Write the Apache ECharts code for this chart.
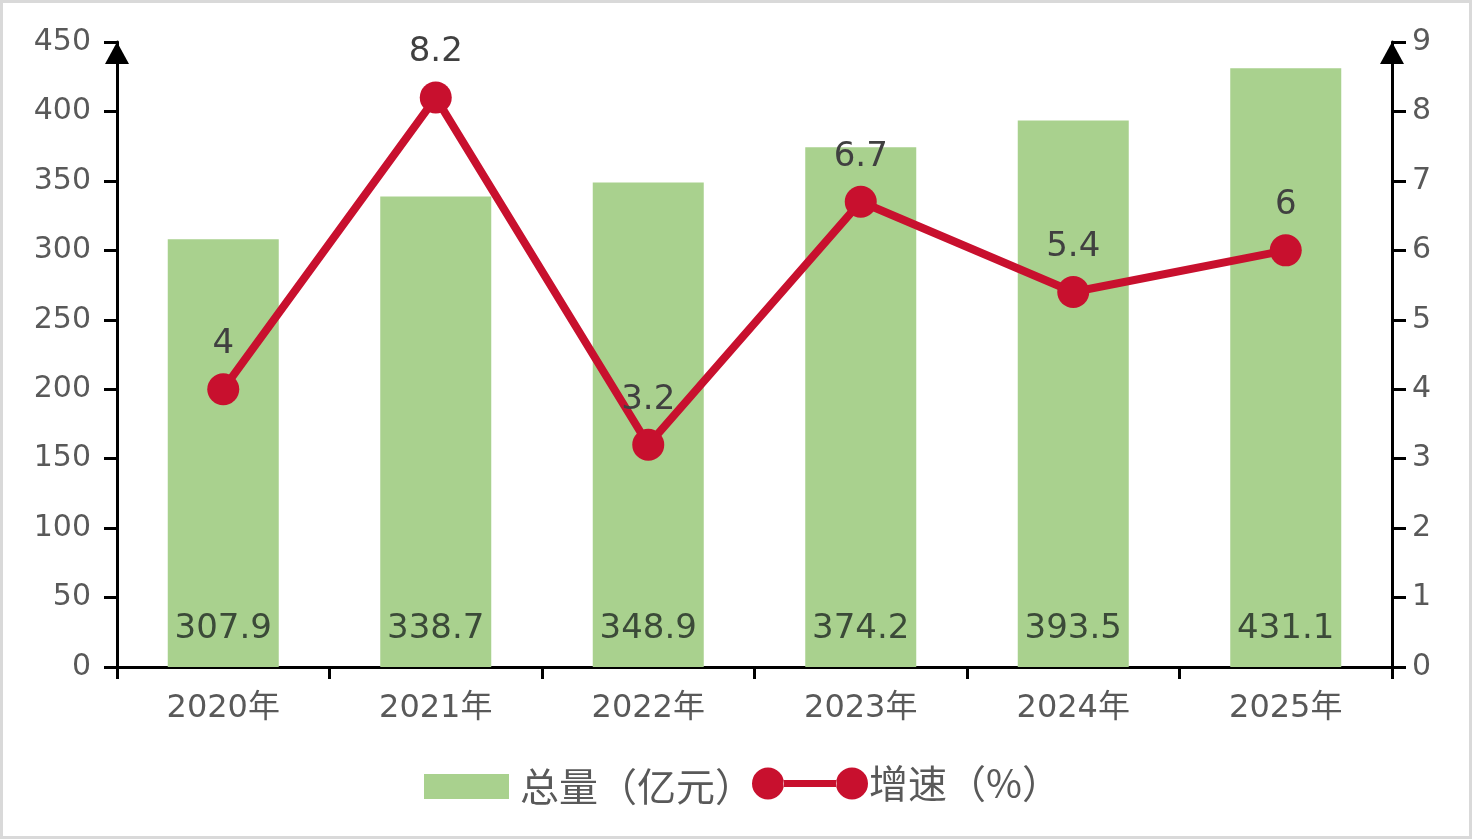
<!DOCTYPE html>
<html>
<head>
<meta charset="utf-8">
<title>总量与增速</title>
<script src="https://cdn.jsdelivr.net/npm/echarts@6/dist/echarts.min.js"></script>
<style>
  html, body { margin: 0; padding: 0; background: #fff; }
  #chart {
    width: 1472px;
    height: 839px;
    box-sizing: border-box;
    border: 3px solid #d9d9d9;
  }
</style>
</head>
<body>
<div id="chart"></div>
<script>
const YEARS = ["2020年", "2021年", "2022年", "2023年", "2024年", "2025年"];
const TOTAL_VALUES = [307.9, 338.7, 348.9, 374.2, 393.5, 431.1];
const GROWTH_VALUES = [4, 8.2, 3.2, 6.7, 5.4, 6];

const TEXT = {
  totalName: "总量（亿元）",
  growthName: "增速（%）",
};

const FONT = '"DejaVu Sans", "Noto Sans CJK SC", sans-serif';
const CJK_FONT = '"Noto Sans CJK SC", sans-serif';
const GREEN = "#a9d18e";
const RED = "#c8102e";
const AXIS_TEXT = "#595959";

// dumbbell icon: circle - bar - circle (bar kept between circles so nothing cancels out)
const DUMBBELL =
  "path://M0,16a16,16 0 1,0 32,0a16,16 0 1,0 -32,0Z" +
  "M84,16a16,16 0 1,0 32,0a16,16 0 1,0 -32,0Z" +
  "M31.4,12.5h53.2v7h-53.2Z";

const chart = echarts.init(document.getElementById("chart"), undefined, { renderer: "canvas" });

const axisLineStyle = { color: "#000", width: 3 };

const arrowLine = {
  show: true,
  lineStyle: axisLineStyle,
  symbol: ["none", "triangle"],
  symbolSize: [24, 22],
  symbolOffset: [0, -11],
};

chart.setOption({
  animation: false,
  textStyle: { fontFamily: FONT },
  grid: { left: 114, right: 77, top: 39, bottom: 169, containLabel: false },
  legend: [
    {
      left: 421,
      top: 764,
      padding: 0,
      itemWidth: 85,
      itemHeight: 25,
      icon: "rect",
      data: [TEXT.totalName],
      textStyle: { color: AXIS_TEXT, fontSize: 39, fontFamily: CJK_FONT, padding: [0, 0, 4, 6] },
    },
    {
      left: 749,
      top: 761,
      padding: 0,
      itemWidth: 116,
      itemHeight: 32,
      icon: DUMBBELL,
      data: [TEXT.growthName],
      textStyle: { color: AXIS_TEXT, fontSize: 39, fontFamily: CJK_FONT, padding: [0, 0, 4, -4] },
    },
  ],
  xAxis: {
    type: "category",
    data: YEARS,
    boundaryGap: true,
    axisLine: { lineStyle: axisLineStyle },
    axisTick: { show: true, length: 12, lineStyle: axisLineStyle },
    axisLabel: { color: AXIS_TEXT, fontSize: 32, margin: 26, fontFamily: FONT },
  },
  yAxis: [
    {
      type: "value",
      min: 0,
      max: 450,
      interval: 50,
      splitLine: { show: false },
      axisLine: arrowLine,
      axisTick: { show: true, length: 13, lineStyle: axisLineStyle },
      axisLabel: { color: AXIS_TEXT, fontSize: 30, margin: 26, fontFamily: FONT },
    },
    {
      type: "value",
      min: 0,
      max: 9,
      interval: 1,
      splitLine: { show: false },
      axisLine: arrowLine,
      axisTick: { show: true, length: 14, lineStyle: axisLineStyle },
      axisLabel: { color: AXIS_TEXT, fontSize: 30, margin: 20, fontFamily: FONT },
    },
  ],
  series: [
    {
      name: TEXT.totalName,
      type: "bar",
      data: TOTAL_VALUES,
      barWidth: 111,
      itemStyle: { color: GREEN },
      label: {
        show: true,
        position: "insideBottom",
        distance: 21,
        color: "#3b4a38",
        fontSize: 34,
        fontFamily: FONT,
      },
    },
    {
      name: TEXT.growthName,
      type: "line",
      yAxisIndex: 1,
      data: GROWTH_VALUES,
      symbol: "circle",
      symbolSize: 32,
      lineStyle: { color: RED, width: 8 },
      itemStyle: { color: RED },
      label: {
        show: true,
        position: "top",
        distance: 12,
        color: "#404040",
        fontSize: 34,
        fontFamily: FONT,
      },
    },
  ],
});
</script>
</body>
</html>
